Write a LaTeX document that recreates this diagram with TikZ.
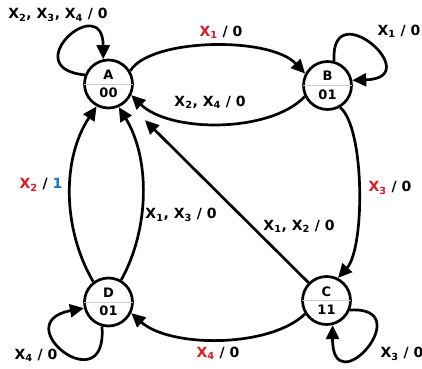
\documentclass[tikz,border=0pt]{standalone}
\usepackage{fontspec}
\setmainfont{DejaVu Sans}
\usetikzlibrary{arrows.meta}
\definecolor{lred}{RGB}{222,25,35}
\definecolor{lblue}{RGB}{25,115,190}
\newcommand\xs[1]{X\textsubscript{#1}}
\begin{document}
\begin{tikzpicture}[x=1pt,y=1pt,
  st/.style={circle,draw,line width=2.7pt,minimum size=48pt,inner sep=0pt,align=center,font=\bfseries\fontsize{13}{18.5}\selectfont},
  tr/.style={line width=2.7pt,-{Triangle[length=14pt,width=13pt]}},
  lb/.style={font=\bfseries\fontsize{14}{16}\selectfont,inner sep=0pt},
  dv/.style={gray!40,line width=0.6pt,shorten <=1.3pt,shorten >=1.3pt}]
\useasboundingbox (0,0) rectangle (422,368);
\node[st] (A) at (108.5,284) {A\\00};
\node[st] (B) at (327.5,282.5) {B\\01};
\node[st] (C) at (326.5,67.5) {C\\11};
\node[st] (D) at (108.5,66) {D\\01};
\foreach \n in {A,B,C,D} \draw[dv] (\n.west) -- (\n.east);
% edges
\draw[tr] (A.31) .. controls (150,330) and (270,332) .. (B.152);
\draw[tr] (B.206) .. controls (270,235) and (170,235) .. (A.334);
\draw[tr] (B.300) .. controls (365,240) and (365,120) .. (C.63);
\draw[tr,shorten >=26pt] (C) -- (A);
\draw[tr] (C.212) .. controls (270,20) and (170,20) .. (D.334);
\draw[tr] (D.127) .. controls (62,140) and (62,210) .. (A.242);
\draw[tr] (D.60) .. controls (150,140) and (150,210) .. (A.294);
% loops
\draw[tr] (A.159) .. controls (15,300) and (103,378) .. (A.102);
\draw[tr] (B.75) .. controls (330,376) and (428,290) .. (B.12);
\draw[tr] (D.255) .. controls (108,-36) and (5,45) .. (D.194);
\draw[tr] (C.338) .. controls (420,62) and (332,-38) .. (C.284);
% labels
\node[lb] (l1) at (58,353) {\xs2, \xs3, \xs4 / 0};
\node[lb] (l2) at (221,335.5) {\textcolor{lred}{\xs1} / 0};
\node[lb] (l3) at (399,337) {\xs1 / 0};
\node[lb] (l4) at (210,266) {\xs2, \xs4 / 0};
\node[lb] (l5) at (390,180) {\textcolor{lred}{\xs3} / 0};
\node[lb] (l6) at (299,142) {\xs1, \xs2 / 0};
\node[lb] (l7) at (41,183) {\textcolor{lred}{\xs2} / \textcolor{lblue}{1}};
\node[lb] (l8) at (181,153) {\xs1, \xs3 / 0};
\node[lb] (l9) at (36,13) {\xs4 / 0};
\node[lb] (l10) at (218,15) {\textcolor{lred}{\xs4} / 0};
\node[lb] (l11) at (402,14) {\xs3 / 0};
\end{tikzpicture}
\end{document}
